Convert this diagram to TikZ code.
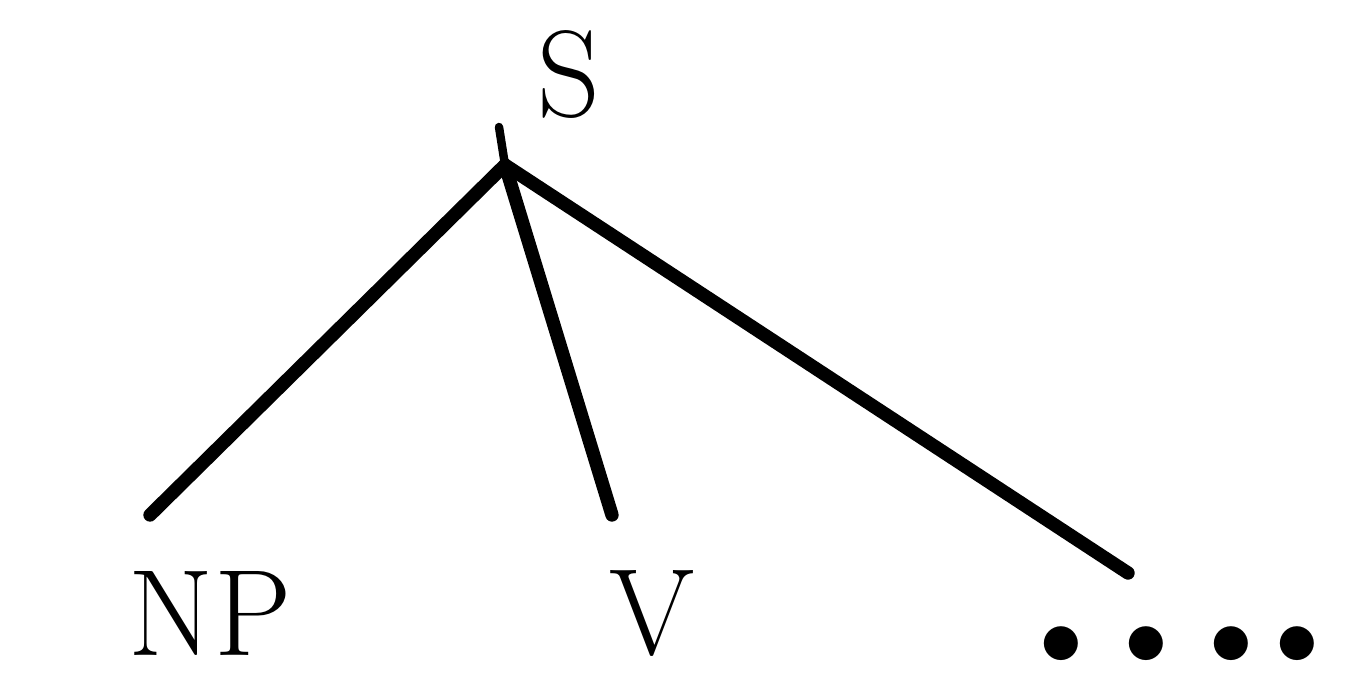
\documentclass[tikz,border=0pt]{standalone}
\usepackage{tikz}
\usetikzlibrary{positioning, calc}

\begin{document}
\begin{tikzpicture}[
    cat/.style={
        font=\fontsize{35}{42}\selectfont,
        inner sep=0pt,
        anchor=center
    },
    dots/.style={
        font=\fontsize{30}{36}\selectfont,
        inner sep=0pt,
        anchor=center
    },
    branch/.style={
        line width=3.8pt,
        line cap=round,
        draw=black
    },
    stub/.style={
        line width=2.4pt,
        line cap=round,
        draw=black
    }
]

\useasboundingbox (0,0) rectangle (13.54,6.72);

% ============================================================
% Labels
% ============================================================

\node[cat] (s)    at (5.69,5.98) {S};
\node[cat] (np)   at (2.10,0.59) {NP};
\node[cat] (v)    at (6.52,0.59) {V};
\node[dots] (rest) at (11.79,0.26)
    {$\bullet\kern 0.22cm\bullet\kern 0.22cm\bullet\kern 0.22cm\bullet$};

% ============================================================
% Branches
% ============================================================

\coordinate (tick) at (4.99,5.45);
\coordinate (top)  at (5.05,5.07);
\coordinate (npend)   at (1.50,1.57);
\coordinate (vend)    at (6.12,1.57);
\coordinate (restend) at (11.28,0.99);

\draw[stub]   (tick) -- (top);
\draw[branch] (top) -- (npend);
\draw[branch] (top) -- (vend);
\draw[branch] (top) -- (restend);
\end{tikzpicture}
\end{document}
